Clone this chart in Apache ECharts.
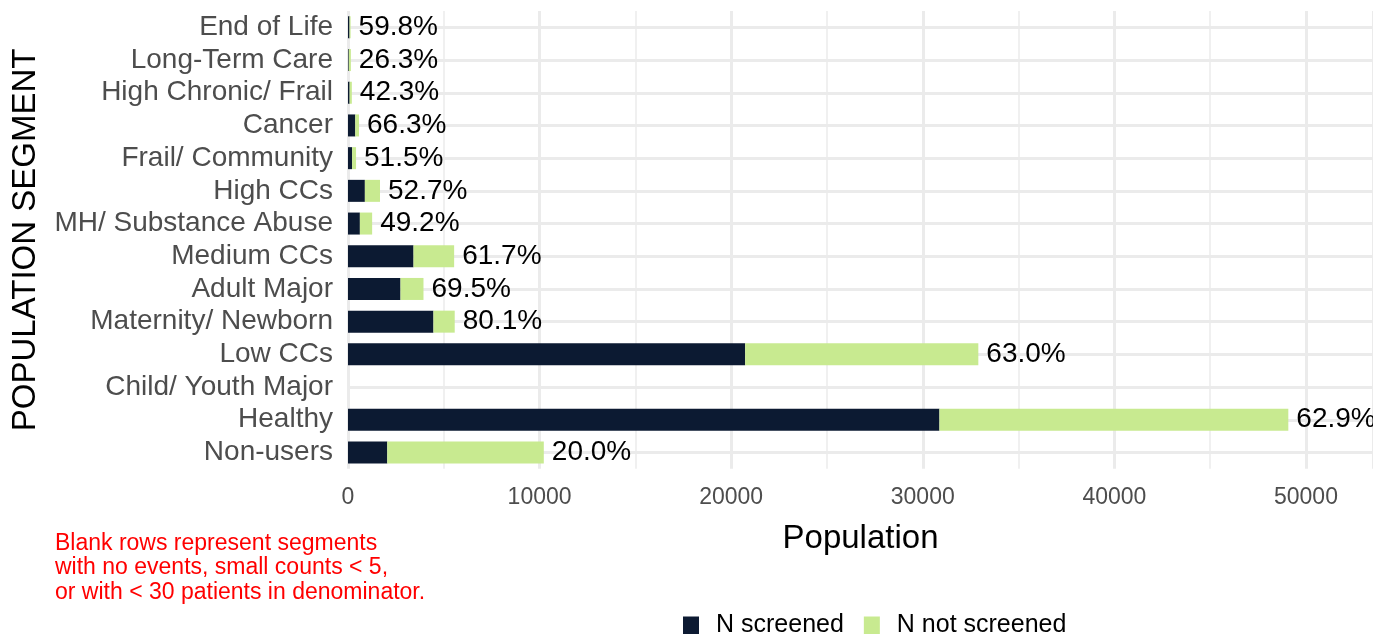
<!DOCTYPE html>
<html lang="en">

<head>
    <meta charset="UTF-8">
    <title>Screening by population segment</title>
    <script type="text/javascript" src="https://cdn.jsdelivr.net/npm/echarts@6/dist/echarts.min.js"></script>
    <style>
        html,
        body {
            margin: 0;
            padding: 0;
            width: 100%;
            height: 100%;
            background: #fff;
        }

        #container {
            width: 1373px;
            height: 634px;
        }
    </style>
</head>

<body>
    <div id="container"></div>
    <script>
        // top to bottom, as in the picture
        let segments = ['End of Life', 'Long-Term Care', 'High Chronic/ Frail', 'Cancer', 'Frail/ Community',
            'High CCs', 'MH/ Substance Abuse', 'Medium CCs', 'Adult Major', 'Maternity/ Newborn', 'Low CCs',
            'Child/ Youth Major', 'Healthy', 'Non-users'
        ];
        let screened = [80, 40, 85, 380, 215, 880, 620, 3420, 2740, 4460, 20730, null, 30870, 2050];
        let notScreened = [55, 110, 115, 195, 205, 790, 640, 2120, 1200, 1110, 12170, null, 18210, 8170];
        let pctLabels = ['59.8%', '26.3%', '42.3%', '66.3%', '51.5%', '52.7%', '49.2%', '61.7%', '69.5%',
            '80.1%', '63.0%', '', '62.9%', '20.0%'
        ];
        let xTicks = [0, 10000, 20000, 30000, 40000, 50000];
        let note = ['Blank rows represent segments', 'with no events, small counts < 5,',
            'or with < 30 patients in denominator.'
        ];

        let font = 'Liberation Sans, Arial, sans-serif';
        let gridColor = '#ebebeb';

        let chart = echarts.init(document.getElementById('container'));
        let option = {
            animation: false,
            textStyle: {
                fontFamily: font,
            },
            grid: {
                left: 348,
                right: 0,
                top: 11,
                height: 457.8,
                containLabel: false,
            },
            legend: {
                data: ['N screened', 'N not screened'],
                left: 678,
                top: 608,
                itemWidth: 16,
                itemHeight: 18,
                itemGap: 20,
                icon: 'rect',
                textStyle: {
                    fontSize: 25,
                    color: '#000',
                    padding: [0, 0, 0, 12],
                },
            },
            xAxis: {
                type: 'value',
                min: 0,
                max: 53500,
                interval: 10000,
                name: 'Population',
                nameLocation: 'middle',
                nameGap: 54,
                nameTextStyle: {
                    fontSize: 33,
                    color: '#000',
                },
                axisLine: { show: false },
                axisTick: { show: false },
                axisLabel: {
                    fontSize: 23,
                    color: '#4d4d4d',
                    margin: 17,
                    showMaxLabel: false,
                    formatter: v => xTicks.indexOf(v) >= 0 ? String(v) : '',
                },
                splitLine: {
                    show: true,
                    lineStyle: { color: gridColor, width: 3 },
                },
                minorSplitLine: {
                    show: true,
                    lineStyle: { color: gridColor, width: 1.5 },
                },
                minorTick: { show: false, splitNumber: 2 },
            },
            yAxis: {
                type: 'category',
                inverse: true,
                data: segments,
                name: 'POPULATION SEGMENT',
                nameLocation: 'middle',
                nameGap: 306,
                nameTextStyle: {
                    fontSize: 33,
                    color: '#000',
                },
                axisLine: { show: false },
                axisTick: { show: false, alignWithLabel: true },
                axisLabel: {
                    interval: 0,
                    fontSize: 28,
                    color: '#4d4d4d',
                    margin: 15,
                },
                splitLine: {
                    show: true,
                    interval: 0,
                    alignWithLabel: true,
                    lineStyle: { color: gridColor, width: 3 },
                },
            },
            series: [{
                    name: 'N screened',
                    type: 'bar',
                    stack: 'n',
                    barWidth: 22,
                    itemStyle: { color: '#0c1a32' },
                    data: screened,
                },
                {
                    name: 'N not screened',
                    type: 'bar',
                    stack: 'n',
                    barWidth: 22,
                    itemStyle: { color: '#c8ea90' },
                    label: {
                        show: true,
                        position: 'right',
                        distance: 8,
                        fontSize: 28,
                        color: '#000',
                        formatter: params => pctLabels[params.dataIndex],
                    },
                    data: notScreened,
                },
            ],
            graphic: note.map((line, i) => ({
                type: 'text',
                left: 55,
                top: 532 + i * 24.5,
                style: {
                    text: line,
                    fill: '#ff0000',
                    fontSize: 23,
                    fontFamily: font,
                },
            })),
        };
        chart.setOption(option);
    </script>
</body>

</html>
